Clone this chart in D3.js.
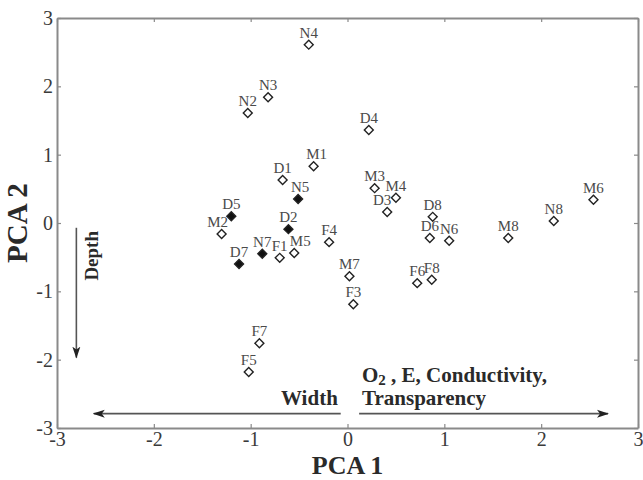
<!DOCTYPE html>
<html>
<head>
<meta charset="utf-8">
<script src="https://cdn.jsdelivr.net/npm/d3@7"></script>
<style>
  body { margin: 0; background: #fff; }
  svg { display: block; font-family: "Liberation Serif", "DejaVu Serif", serif; }
  .tick text { font-family: "Liberation Serif", serif; }
</style>
</head>
<body>
<svg id="chart" width="643" height="480"></svg>
<script>
// sample sites, PCA scores
var names = ["N4","N3","N2","D4","M1","D1","N5","D5","M2","D2","D7","N7","F1","M5","F4","M7","F3","F7","F5",
             "M3","M4","D3","D8","D6","N6","M8","N8","M6","F6","F8"];
var pc1 = [-0.40,-0.82,-1.03,0.22,-0.35,-0.67,-0.51,-1.20,-1.30,-0.61,-1.12,-0.88,-0.70,-0.55,-0.19,0.02,0.06,-0.91,-1.02,
           0.28,0.50,0.41,0.88,0.85,1.05,1.66,2.13,2.54,0.72,0.87];
var pc2 = [2.61,1.84,1.61,1.36,0.83,0.63,0.35,0.10,-0.16,-0.09,-0.60,-0.45,-0.51,-0.44,-0.28,-0.78,-1.19,-1.76,-2.18,
           0.51,0.37,0.16,0.09,-0.22,-0.26,-0.22,0.03,0.34,-0.88,-0.83];
var filled = ["N5","D5","D2","D7","N7"];
var ticks = [-3,-2,-1,0,1,2,3];

var svg = d3.select("#chart");
var m = {l: 57, r: 5, t: 18, b: 52};
var W = 643, H = 480;
var x = d3.scaleLinear().domain([-3, 3]).range([m.l, W - m.r]);
var y = d3.scaleLinear().domain([-3, 3]).range([H - m.b, m.t]);

var axisCol = "#8a8a8a";
var ink = "#2a2a2a";

// box + inward ticks on all four sides
var axes = [
  [d3.axisBottom(x), "translate(0," + y(-3) + ")", true],
  [d3.axisTop(x), "translate(0," + y(3) + ")", false],
  [d3.axisLeft(y), "translate(" + x(-3) + ",0)", true],
  [d3.axisRight(y), "translate(" + x(3) + ",0)", false]
];
axes.forEach(function(a){
  var g = svg.append("g").attr("transform", a[1])
    .call(a[0].tickValues(ticks).tickSizeInner(-4).tickSizeOuter(0).tickPadding(a[2] ? 4 : 0)
      .tickFormat(function(d){ return a[2] ? String(d) : ""; }));
  g.attr("font-family", null);
  g.select(".domain").attr("stroke", axisCol).attr("stroke-width", 2);
  g.selectAll(".tick line").attr("stroke", axisCol).attr("stroke-width", 1.2);
  g.selectAll(".tick text").attr("fill", "#3a3a3a").attr("font-size", 20);
});

// axis titles
svg.append("text").attr("x", x(0)).attr("y", 474).attr("text-anchor", "middle")
  .attr("font-size", 26).attr("font-weight", "bold").attr("fill", ink).text("PCA 1");
svg.append("text").attr("transform", "translate(27," + y(0) + ") rotate(-90)").attr("text-anchor", "middle")
  .attr("font-size", 29).attr("font-weight", "bold").attr("fill", ink).text("PCA 2");

// arrows
var defs = svg.append("defs");
defs.append("marker").attr("id", "ah").attr("viewBox", "0 -5 12 10").attr("refX", 11).attr("refY", 0)
  .attr("markerWidth", 12).attr("markerHeight", 10).attr("markerUnits", "userSpaceOnUse").attr("orient", "auto")
  .append("path").attr("d", "M0,-4L12,0L0,4L3,0Z").attr("fill", "#222");

function arrow(x0, y0, x1, y1){
  svg.append("line").attr("x1", x(x0)).attr("y1", y(y0)).attr("x2", x(x1)).attr("y2", y(y1))
    .attr("stroke", "#555").attr("stroke-width", 1.6).attr("marker-end", "url(#ah)");
}
arrow(-2.8, -0.07, -2.8, -1.97);
arrow(-0.07, -2.79, -2.62, -2.79);
arrow(0.12, -2.79, 2.69, -2.79);

svg.append("text").attr("transform", "translate(98," + y(-0.48) + ") rotate(-90)")
  .attr("text-anchor", "middle").attr("font-size", 19).attr("font-weight", "bold").attr("fill", ink).text("Depth");
svg.append("text").attr("x", x(-0.1)).attr("y", y(-2.67)).attr("text-anchor", "end")
  .attr("font-size", 21).attr("font-weight", "bold").attr("fill", ink).text("Width");
var o2 = svg.append("text").attr("x", x(0.15)).attr("y", y(-2.32))
  .attr("font-size", 21).attr("font-weight", "bold").attr("fill", ink);
o2.append("tspan").text("O");
o2.append("tspan").attr("font-size", 15).attr("dy", 3).text("2");
o2.append("tspan").attr("dy", -3).text(" , E, Conductivity,");
svg.append("text").attr("x", x(0.15)).attr("y", y(-2.67))
  .attr("font-size", 21).attr("font-weight", "bold").attr("fill", ink).text("Transparency");

// points
var pts = names.map(function(n, i){ return {name: n, px: pc1[i], py: pc2[i], fill: filled.indexOf(n) >= 0}; });
var nudge = {D3: -5, M5: 6, M2: -4, M1: 3, N5: 2};
var sym = d3.symbol().type(d3.symbolSquare).size(40);

svg.append("g").selectAll("path").data(pts).join("path")
  .attr("d", sym)
  .attr("transform", function(d){ return "translate(" + x(d.px) + "," + y(d.py) + ") rotate(45)"; })
  .attr("fill", function(d){ return d.fill ? "#111" : "#fff"; })
  .attr("stroke", "#222").attr("stroke-width", 1.4);

svg.append("g").selectAll("text").data(pts).join("text")
  .attr("x", function(d){ return x(d.px) + (nudge[d.name] || 0); })
  .attr("y", function(d){ return y(d.py) - 7; })
  .attr("text-anchor", "middle").attr("font-size", 15).attr("fill", "#4a4a4a")
  .text(function(d){ return d.name; });
</script>
</body>
</html>
